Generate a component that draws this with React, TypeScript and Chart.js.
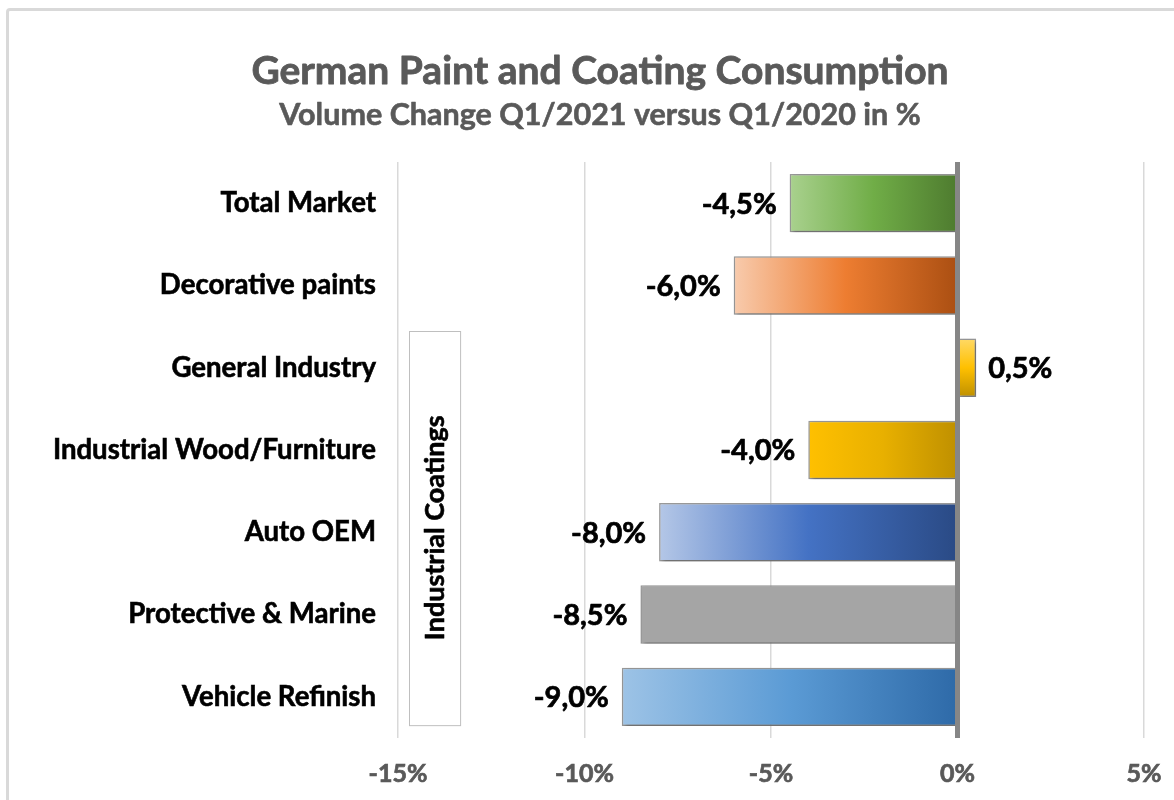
import React, { useEffect, useRef } from "react";
import { Chart, registerables } from "chart.js";

Chart.register(...registerables);

const categories = [
  "Total Market",
  "Decorative paints",
  "General Industry",
  "Industrial Wood/Furniture",
  "Auto OEM",
  "Protective & Marine",
  "Vehicle Refinish",
];
const values = [-4.5, -6.0, 0.5, -4.0, -8.0, -8.5, -9.0];
const xTickValues = [-15, -10, -5, 0, 5];
const titleText = "German Paint and Coating Consumption";
const subtitleText = "Volume Change Q1/2021 versus Q1/2020 in %";
const groupLabel = "Industrial Coatings";

// style: gradient stops and direction per bar
const barStyles: { stops: string[]; vertical?: boolean }[] = [
  { stops: ["#a9d18e", "#70ad47", "#4e7b2f"] },
  { stops: ["#f8cbad", "#ed7d31", "#ab4f12"] },
  { stops: ["#ffd966", "#ffc000", "#bf9000"], vertical: true },
  { stops: ["#ffc000", "#e8b000", "#bf9000"] },
  { stops: ["#b4c7e7", "#4472c4", "#2a4a85"] },
  { stops: ["#a5a5a5", "#a5a5a5", "#a5a5a5"] },
  { stops: ["#9dc3e6", "#5b9bd5", "#2e6aa8"] },
];

const FONT = "Lato, 'Open Sans', sans-serif";
const fmt = (v: number) => v.toFixed(1).replace(".", ",") + "%";

function heavyText(ctx: CanvasRenderingContext2D, t: string, x: number, y: number, w: number) {
  ctx.lineWidth = w;
  ctx.strokeStyle = ctx.fillStyle as string;
  ctx.lineJoin = "round";
  ctx.strokeText(t, x, y);
  ctx.fillText(t, x, y);
}

export default function App() {
  const ref = useRef<HTMLCanvasElement>(null);

  useEffect(() => {
    if (!ref.current) return;

    const decorPlugin = {
      id: "decor",
      beforeDraw(chart: any) {
        const ctx = chart.ctx;
        ctx.save();
        ctx.fillStyle = "#595959";
        ctx.textAlign = "center";
        ctx.textBaseline = "alphabetic";
        ctx.font = `bold 39px ${FONT}`;
        heavyText(ctx, titleText, 600, 84, 0.8);
        ctx.font = `bold 30.5px ${FONT}`;
        heavyText(ctx, subtitleText, 600, 125, 0.6);
        ctx.restore();
      },
      beforeDatasetsDraw(chart: any) {
        const ctx = chart.ctx;
        ctx.save();
        ctx.shadowColor = "rgba(0,0,0,0.35)";
        ctx.shadowBlur = 4;
        ctx.shadowOffsetX = 2;
        ctx.shadowOffsetY = 2;
      },
      afterDatasetsDraw(chart: any) {
        const ctx = chart.ctx;
        ctx.restore();
        const xs = chart.scales.x;
        const ys = chart.scales.y;
        const area = chart.chartArea;
        // zero line
        const x0 = xs.getPixelForValue(0);
        ctx.save();
        ctx.strokeStyle = "#868686";
        ctx.lineWidth = 5;
        ctx.beginPath();
        ctx.moveTo(x0, area.top);
        ctx.lineTo(x0, area.bottom);
        ctx.stroke();
        ctx.restore();
        // data labels
        const meta = chart.getDatasetMeta(0);
        ctx.save();
        ctx.fillStyle = "#000";
        ctx.font = `bold 29px ${FONT}`;
        ctx.textBaseline = "middle";
        meta.data.forEach((el: any, i: number) => {
          const v = values[i];
          if (v < 0) {
            ctx.textAlign = "right";
            heavyText(ctx, fmt(v), el.x - 13, el.y + 1, 0.7);
          } else {
            ctx.textAlign = "left";
            heavyText(ctx, fmt(v), el.x + 12, el.y + 1, 0.7);
          }
        });
        ctx.restore();
        // group box
        const bx0 = xs.getPixelForValue(-14.7);
        const bx1 = xs.getPixelForValue(-13.33);
        const by0 = ys.getPixelForValue(2) - 37;
        const by1 = ys.getPixelForValue(6) + 28;
        ctx.save();
        ctx.fillStyle = "#ffffff";
        ctx.fillRect(bx0, by0, bx1 - bx0, by1 - by0);
        ctx.strokeStyle = "#bfbfbf";
        ctx.lineWidth = 1;
        ctx.strokeRect(Math.round(bx0) + 0.5, Math.round(by0) + 0.5, bx1 - bx0, by1 - by0);
        ctx.translate((bx0 + bx1) / 2 + 1, (by0 + by1) / 2);
        ctx.rotate(-Math.PI / 2);
        ctx.fillStyle = "#000";
        ctx.font = `bold 27px ${FONT}`;
        ctx.textAlign = "center";
        ctx.textBaseline = "middle";
        heavyText(ctx, groupLabel, 0, 0, 0.6);
        ctx.restore();
      },
    };

    const chart = new Chart(ref.current, {
      type: "bar",
      data: {
        labels: categories,
        datasets: [
          {
            data: values,
            backgroundColor: (c: any) => {
              const chart = c.chart;
              const i = c.dataIndex;
              const st = barStyles[i] || barStyles[0];
              const xs = chart.scales?.x;
              const ys = chart.scales?.y;
              if (!xs || !ys || i === undefined) return st.stops[1];
              const g = chart.ctx;
              let grad;
              if (st.vertical) {
                const yc = ys.getPixelForValue(i);
                grad = g.createLinearGradient(0, yc - 29, 0, yc + 29);
              } else {
                const a = xs.getPixelForValue(Math.min(0, values[i]));
                const b = xs.getPixelForValue(Math.max(0, values[i]));
                if (!isFinite(a) || !isFinite(b) || a === b) return st.stops[1];
                grad = g.createLinearGradient(a, 0, b, 0);
              }
              grad.addColorStop(0, st.stops[0]);
              grad.addColorStop(0.5, st.stops[1]);
              grad.addColorStop(1, st.stops[2]);
              return grad;
            },
            borderColor: "#9a9a9a",
            borderWidth: 1.5,
            borderSkipped: "start",
            barPercentage: 0.71,
            categoryPercentage: 1,
          },
        ],
      },
      options: {
        indexAxis: "y",
        animation: false,
        responsive: false,
        maintainAspectRatio: false,
        layout: { padding: { top: 162, right: 56, left: 0, bottom: 0 } },
        plugins: {
          legend: { display: false },
          title: { display: false },
          tooltip: { enabled: false },
        },
        scales: {
          x: {
            type: "linear",
            min: -15,
            max: 5,
            afterBuildTicks: (s: any) => {
              s.ticks = xTickValues.map((v) => ({ value: v }));
            },
            afterFit: (s: any) => {
              s.height = 62;
            },
            ticks: {
              callback: (v: any) => v + "%",
              font: { family: FONT, size: 25, weight: "bold" },
              color: "#595959",
              textStrokeColor: "#595959",
              textStrokeWidth: 0.7,
              padding: 21,
            },
            grid: {
              color: "#d9d9d9",
              lineWidth: 1.5,
              drawTicks: false,
            },
            border: { display: false },
          },
          y: {
            afterFit: (s: any) => {
              s.width = 398;
            },
            ticks: {
              font: { family: FONT, size: 27.6, weight: "bold" },
              color: "#000000",
              textStrokeColor: "#000000",
              textStrokeWidth: 0.6,
              padding: 22,
            },
            grid: { display: false, drawTicks: false },
            border: { display: false },
          },
        },
      },
      plugins: [decorPlugin],
    } as any);

    return () => chart.destroy();
  }, []);

  return (
    <div
      style={{
        position: "fixed",
        left: 0,
        top: 0,
        width: 1174,
        height: 800,
        overflow: "hidden",
        background: "#ffffff",
      }}
    >
      <div
        style={{
          position: "absolute",
          left: 6,
          top: 8,
          width: 1220,
          height: 830,
          border: "3px solid #d9d9d9",
          borderRadius: 4,
          boxSizing: "border-box",
        }}
      />
      <canvas
        ref={ref}
        width={1200}
        height={800}
        style={{ position: "absolute", left: 0, top: 0, width: 1200, height: 800 }}
      />
    </div>
  );
}
